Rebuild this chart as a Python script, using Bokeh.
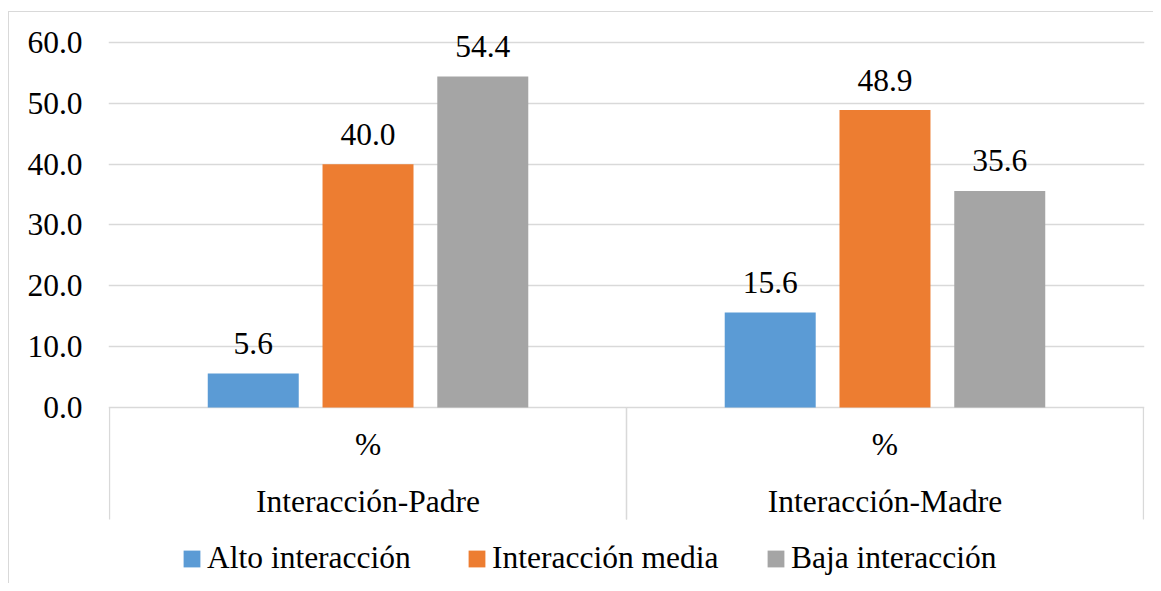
from bokeh.plotting import figure
from bokeh.models import (ColumnDataSource, FactorRange, Range1d, FixedTicker,
                          PrintfTickFormatter, Legend, LegendItem)
from bokeh.transform import dodge
from bokeh.core.properties import value
from bokeh.embed import file_html
from bokeh.resources import INLINE

# ---- data ----
groups = ["Interacción-Padre", "Interacción-Madre"]
subcategory = "%"
series_names = ["Alto interacción", "Interacción media", "Baja interacción"]
alto = [5.6, 15.6]
media = [40.0, 48.9]
baja = [54.4, 35.6]
y_ticks = [0, 10, 20, 30, 40, 50, 60]

# ---- style ----
FONT = value("Liberation Serif")
FS = "31.5px"
colors = ["#5B9BD5", "#ED7D31", "#A5A5A5"]
grid_col = "#D9D9D9"
offsets = [-0.222, 0.0, 0.222]
bar_w = 0.176
box_bottom = -18.41      # bottom of the category-label box (data units)
pct_y = -6.08            # centre of the "%" row
grp_y = -15.5            # centre of the group-name row
legend_x = [73, 358, 657]  # legend entry positions (px from plot-area left)

src = ColumnDataSource(dict(
    x=groups, alto=alto, media=media, baja=baja,
    alto_t=[f"{v:.1f}" for v in alto],
    media_t=[f"{v:.1f}" for v in media],
    baja_t=[f"{v:.1f}" for v in baja],
    sub=[subcategory] * len(groups),
))

p = figure(width=1145, height=572, output_backend="svg", toolbar_location=None,
           title=None, x_axis_location=None,
           x_range=FactorRange(factors=groups, range_padding=0.002,
                               range_padding_units="absolute"),
           y_range=Range1d(-29.1, 64.93),
           min_border_left=99, min_border_right=10, min_border_top=0,
           min_border_bottom=0)
p.margin = (11, 0, 0, 8)
p.styles = {"border-left": "1px solid #D9D9D9", "border-top": "1px solid #D9D9D9"}
p.outline_line_color = None
p.background_fill_color = "white"
p.border_fill_color = "white"

p.xgrid.visible = False
p.ygrid.ticker = FixedTicker(ticks=y_ticks)
p.ygrid.grid_line_color = grid_col
p.ygrid.grid_line_width = 1.3

ya = p.yaxis[0]
ya.ticker = FixedTicker(ticks=y_ticks)
ya.formatter = PrintfTickFormatter(format="%.1f")
ya.axis_line_color = None
ya.major_tick_line_color = None
ya.minor_tick_line_color = None
ya.major_tick_out = 0
ya.major_label_standoff = 26
ya.major_label_text_font = "Liberation Serif"
ya.major_label_text_font_size = FS
ya.major_label_text_color = "black"

cols = ["alto", "media", "baja"]
renderers = []
for c, off, col in zip(cols, offsets, colors):
    xd = dodge("x", off, range=p.x_range)
    r = p.vbar(x=xd, top=c, bottom=0, width=bar_w, source=src,
               fill_color=col, line_color=None)
    renderers.append(r)
    p.text(x=xd, y=c, text=c + "_t", source=src, text_font=FONT,
           text_font_size=FS, text_color="black", text_align="center",
           text_baseline="middle", y_offset=-30)

# category box lines
for off in (-0.5, 0.5):
    xd = dodge("x", off, range=p.x_range)
    p.segment(x0=xd, y0=0, x1=xd, y1=box_bottom, source=src,
              line_color=grid_col, line_width=1.3)

# category labels
p.text(x="x", y=pct_y, text="sub", source=src, text_font=FONT, text_font_size=FS,
       text_color="black", text_align="center", text_baseline="middle")
p.text(x="x", y=grp_y, text="x", source=src, text_font=FONT, text_font_size=FS,
       text_color="black", text_align="center", text_baseline="middle")

for n, r, lx in zip(series_names, renderers, legend_x):
    legend = Legend(items=[LegendItem(label=n, renderers=[r])],
                    orientation="horizontal", location=(lx, 8),
                    label_text_font="Liberation Serif", label_text_font_size=FS,
                    label_text_color="black", glyph_width=21, glyph_height=21,
                    label_standoff=5, spacing=0, padding=0, margin=0,
                    border_line_color=None, background_fill_alpha=0)
    p.add_layout(legend)

open("out.html", "w").write(file_html(p, INLINE))
